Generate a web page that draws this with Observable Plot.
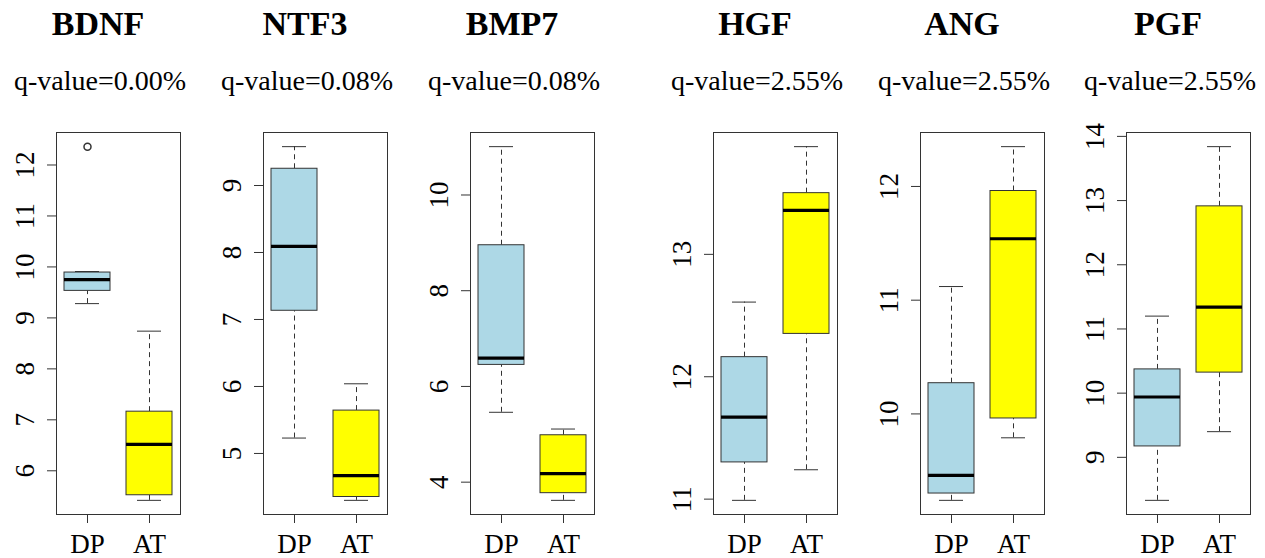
<!DOCTYPE html>
<html><head><meta charset="utf-8">
<script src="https://cdn.jsdelivr.net/npm/d3@7"></script>
<script src="https://cdn.jsdelivr.net/npm/@observablehq/plot@0.6"></script>
<style>
body{margin:0;background:#fff;}
#root{position:relative;width:1265px;height:558px;overflow:hidden;font-family:"Liberation Serif","Times New Roman",serif;color:#000;}
#root svg text{font-family:"Liberation Serif","Times New Roman",serif !important;}
.title{position:absolute;width:240px;text-align:center;font-weight:bold;font-size:34px;line-height:34px;top:7px;}
.q{position:absolute;width:260px;text-align:center;font-size:28px;line-height:28px;top:67px;}
.panel{position:absolute;top:120px;}
</style></head><body><div id="root"></div>
<script>
// ---- data ----
const genes = ["BDNF", "NTF3", "BMP7", "HGF", "ANG", "PGF"];
const qValues = ["0.00%", "0.08%", "0.08%", "2.55%", "2.55%", "2.55%"];
const groups = ["DP", "AT"];
const groupColors = ["lightblue", "yellow"];
const dpLow  = [9.28, 5.23, 5.46, 10.99, 9.24, 8.33];
const dpQ1   = [9.53, 7.13, 6.45, 11.30, 9.30, 9.17];
const dpMed  = [9.75, 8.09, 6.59, 11.67, 9.46, 9.94];
const dpQ3   = [9.89, 9.25, 8.95, 12.16, 10.27, 10.37];
const dpHigh = [9.91, 9.58, 11.01, 12.61, 11.12, 11.20];
const atLow  = [5.42, 4.30, 3.62, 11.24, 9.79, 9.40];
const atQ1   = [5.52, 4.35, 3.77, 12.35, 9.96, 10.32];
const atMed  = [6.52, 4.67, 4.18, 13.36, 11.54, 11.34];
const atQ3   = [7.16, 5.64, 4.98, 13.50, 11.96, 12.91];
const atHigh = [8.74, 6.04, 5.11, 13.88, 12.35, 13.84];
const outlierGene = ["BDNF"];
const outlierGroup = ["DP"];
const outlierValue = [12.36];
const yTicks = [[6,7,8,9,10,11,12],[5,6,7,8,9],[4,6,8,10],[11,12,13],[10,11,12],[9,10,11,12,13,14]];

// ---- layout ----
const frameLeft = [56, 263, 470, 713, 920, 1126];
const frameW = 124, mL = 56, mR = 15, mT = 12, mB = 44, H = 438;
const capInset = 11;
const serif = "Liberation Serif";
const root = document.getElementById("root");

genes.forEach((gene, i) => {
  const rows = [
    {group: groups[0], color: groupColors[0], low: dpLow[i], q1: dpQ1[i], med: dpMed[i], q3: dpQ3[i], high: dpHigh[i]},
    {group: groups[1], color: groupColors[1], low: atLow[i], q1: atQ1[i], med: atMed[i], q3: atQ3[i], high: atHigh[i]}
  ];
  const outs = outlierGene.map((g, k) => ({gene: g, group: outlierGroup[k], value: outlierValue[k]})).filter(d => d.gene === gene);
  const all = rows.flatMap(d => [d.low, d.high]).concat(outs.map(d => d.value));
  const lo = d3.min(all), hi = d3.max(all), pad = 0.04 * (hi - lo);
  const chart = Plot.plot({
    width: mL + frameW + mR, height: H,
    marginLeft: mL, marginRight: mR, marginTop: mT, marginBottom: mB,
    style: {background: "transparent", overflow: "visible", color: "#000"},
    x: {type: "band", domain: groups, paddingInner: 0.26, paddingOuter: 0.13, axis: null},
    y: {domain: [lo - pad, hi + pad], axis: null},
    marks: [
      Plot.ruleX(rows, {x: "group", y1: "q3", y2: "high", stroke: "#333", strokeDasharray: "5,4"}),
      Plot.ruleX(rows, {x: "group", y1: "low", y2: "q1", stroke: "#333", strokeDasharray: "5,4"}),
      Plot.tickY(rows, {x: "group", y: "high", stroke: "#333", insetLeft: capInset, insetRight: capInset}),
      Plot.tickY(rows, {x: "group", y: "low", stroke: "#333", insetLeft: capInset, insetRight: capInset}),
      Plot.barY(rows, {x: "group", y1: "q1", y2: "q3", fill: "color", stroke: "#333"}),
      Plot.tickY(rows, {x: "group", y: "med", stroke: "#000", strokeWidth: 3.2}),
      Plot.dot(outs, {x: "group", y: "value", r: 3.5, stroke: "#333", fill: "none"}),
      Plot.frame({stroke: "#333"}),
      Plot.axisY(yTicks[i], {tickSize: 9, tickRotate: -90, tickPadding: 14, fontSize: 27, fontFamily: serif, stroke: "#333", fill: "#000", label: null, tickFormat: d3.format("d")}),
      Plot.axisX({tickSize: 9, tickPadding: 10, fontSize: 27, fontFamily: serif, stroke: "#333", fill: "#000", label: null})
    ]
  });
  const wrap = document.createElement("div");
  wrap.className = "panel";
  wrap.style.left = (frameLeft[i] - mL) + "px";
  wrap.appendChild(chart);
  root.appendChild(wrap);

  const cx = frameLeft[i] + frameW / 2;
  const t = document.createElement("div");
  t.className = "title";
  t.textContent = gene;
  t.style.left = (cx - 20 - 120) + "px";
  root.appendChild(t);
  const q = document.createElement("div");
  q.className = "q";
  q.textContent = "q-value=" + qValues[i];
  q.style.left = (cx - 18 - 130) + "px";
  root.appendChild(q);
});
</script></body></html>
